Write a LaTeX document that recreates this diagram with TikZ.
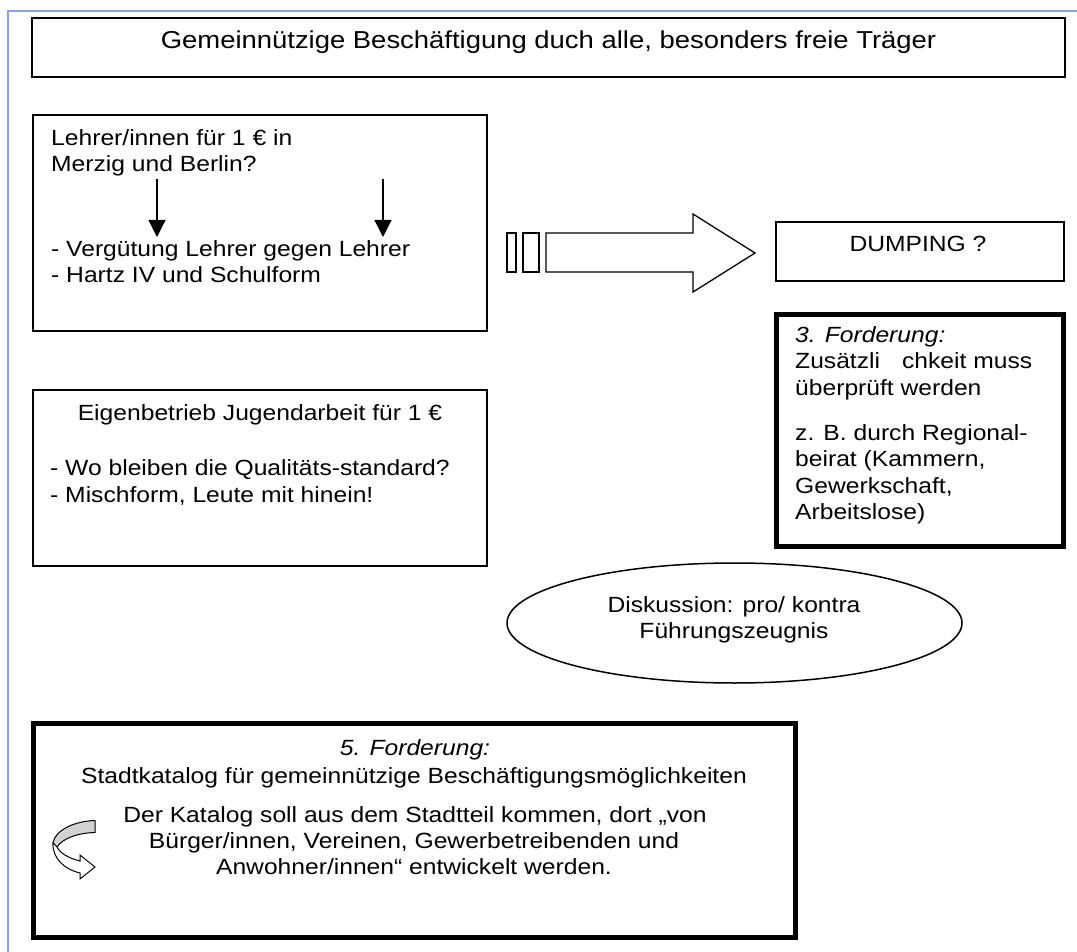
\documentclass[tikz,border=0pt]{standalone}
\usepackage{fontspec}
\setmainfont[FakeStretch=1.12]{Liberation Sans}
\usetikzlibrary{arrows.meta,shapes.geometric}
\definecolor{frameblue}{RGB}{135,165,220}
\definecolor{bandgray}{RGB}{210,210,210}
\begin{document}
\begin{tikzpicture}[x=1pt,y=-1pt,
  thinbox/.style={draw,line width=1.5pt,rectangle,inner sep=0pt},
  thickbox/.style={draw,line width=5pt,rectangle,inner sep=0pt},
  txt/.style={inner sep=0pt,font=\fontsize{22}{26}\selectfont},
  titletxt/.style={inner sep=0pt,font=\fontsize{24.5}{28}\selectfont},
  downarrow/.style={line width=1.2pt,-{Triangle[width=17pt,length=17pt]}},
  shape line/.style={line width=1.3pt,line join=miter}]
\useasboundingbox (0,0) rectangle (1077,952);
% blue frame lines
\draw[frameblue,line width=2pt] (8.3,952) -- (8.3,11) -- (1077,11);
% boxes
\node[thinbox,minimum width=1033pt,minimum height=59pt] (titlebox) at (548.5,47.5) {};
\node[thinbox,minimum width=454pt,minimum height=216pt] (lehrerbox) at (260,223) {};
\node[thinbox,minimum width=454pt,minimum height=176pt] (eigenbox) at (260,478) {};
\node[thinbox,minimum width=288pt,minimum height=59pt] (dumpbox) at (920,251.5) {};
\node[thickbox,minimum width=287pt,minimum height=231.5pt] (ford3box) at (919.5,430.25) {};
\node[thickbox,minimum width=762.5pt,minimum height=214pt] (ford5box) at (414.25,830.5) {};
\node[draw,ellipse,line width=1.5pt,minimum width=455pt,minimum height=120pt,inner sep=0pt] (diskell) at (734.5,623) {};
% title
\node[titletxt,anchor=base] (title) at (548.5,49) {Gemeinnützige Beschäftigung duch alle, besonders freie Träger};
% Lehrer box text
\node[txt,anchor=base west] (l1) at (51,146) {Lehrer/innen für 1 € in};
\node[txt,anchor=base west] (l2) at (51,172) {Merzig und Berlin?};
\node[txt,anchor=base west] (l3) at (51,257) {- Vergütung Lehrer gegen Lehrer};
\node[txt,anchor=base west] (l4) at (51,283) {- Hartz IV und Schulform};
\coordinate (a1top) at (157,179);
\coordinate (a1bot) at (157,237);
\coordinate (a2top) at (383,179);
\coordinate (a2bot) at (383,237);
\draw[downarrow] (a1top) -- (a1bot);
\draw[downarrow] (a2top) -- (a2bot);
% striped block arrow
\draw[shape line] (507,233) rectangle (516,272);
\draw[shape line] (523,233) rectangle (539,272);
\draw[shape line] (546,233) -- (693,233) -- (693,214) -- (755,253) -- (693,292) -- (693,272) -- (546,272) -- cycle;
% DUMPING
\node[txt,anchor=base] (dump) at (918,252) {DUMPING ?};
% 3. Forderung
\node[txt,anchor=base west] (f3a) at (795,342) {\itshape 3. Forderung:};
\node[txt,anchor=base west] (f3b) at (795,368.5) {Zusätzli\hspace{22pt}chkeit muss};
\node[txt,anchor=base west] (f3c) at (795,395) {überprüft werden};
\node[txt,anchor=base west] (f3d) at (795,440) {z. B. durch Regional-};
\node[txt,anchor=base west] (f3e) at (795,466.5) {beirat (Kammern,};
\node[txt,anchor=base west] (f3f) at (795,493) {Gewerkschaft,};
\node[txt,anchor=base west] (f3g) at (795,519.5) {Arbeitslose)};
% Eigenbetrieb
\node[txt,anchor=base] (e1) at (260,420) {Eigenbetrieb Jugendarbeit für 1 €};
\node[txt,anchor=base west] (e2) at (50,475) {- Wo bleiben die Qualitäts-standard?};
\node[txt,anchor=base west] (e3) at (50,502) {- Mischform, Leute mit hinein!};
% ellipse text
\node[txt,anchor=base] (d1) at (734,612) {Diskussion: pro/ kontra};
\node[txt,anchor=base] (d2) at (734,638) {Führungszeugnis};
% 5. Forderung
\node[txt,anchor=base] (f5a) at (415,755) {\itshape 5. Forderung:};
\node[txt,anchor=base] (f5b) at (414,783) {Stadtkatalog für gemeinnützige Beschäftigungsmöglichkeiten};
\node[txt,anchor=base] (f5c) at (415,822) {Der Katalog soll aus dem Stadtteil kommen, dort „von};
\node[txt,anchor=base] (f5d) at (414,848) {Bürger/innen, Vereinen, Gewerbetreibenden und};
\node[txt,anchor=base] (f5e) at (414,874) {Anwohner/innen“ entwickelt werden.};
% curved arrow
\draw[line width=1pt,fill=bandgray,line join=round] (95,820.5) -- (95,832.5) .. controls (78,833) and (63,838) .. (57,847) -- (53,843) .. controls (55,830) and (75,821) .. (95,820.5) -- cycle;
\draw[line width=1pt,fill=white,line join=miter] (53,843) .. controls (52,859) and (66,870) .. (80,873) -- (80,879) -- (95,867) -- (80,855) -- (80,861) .. controls (68,858) and (60,853) .. (57,847) -- cycle;
\end{tikzpicture}
\end{document}
